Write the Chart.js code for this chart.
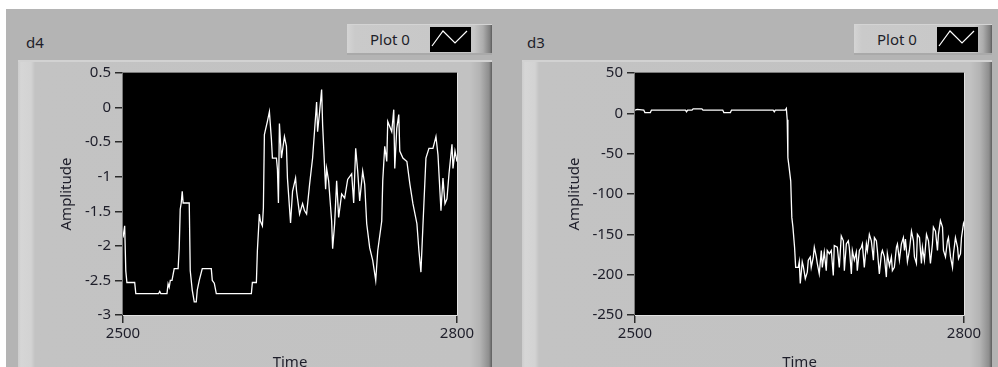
<!DOCTYPE html>
<html>
<head>
<meta charset="utf-8">
<script src="https://cdn.jsdelivr.net/npm/chart.js@4/dist/chart.umd.min.js"></script>
<style>
  html, body { margin: 0; padding: 0; width: 998px; height: 367px; overflow: hidden; background: #ffffff; font-family: "Noto Sans", sans-serif; }
  #frame { position: absolute; left: 6px; top: 9px; width: 992px; height: 358px; background: #b4b4b4; }
  .name { position: absolute; top: 33px; font-size: 15px; color: #1e1e2a; line-height: 18px; }
  .panel { position: absolute; top: 60px; height: 320px; border-top: 2px solid #d2d2d2; box-sizing: border-box;
    background: linear-gradient(to right, #cdcdcd 0px, #d6d6d6 3px, #d3d3d3 13px, #c3c3c3 17px, #c2c2c2 calc(100% - 22px), #b3b3b3 calc(100% - 12px), #8e8e8e calc(100% - 3px), #5e5e5e 100%); }
  .legend { position: absolute; top: 24px; height: 31px; box-sizing: border-box; border-bottom: 2px solid #a9a9a9; border-top: 1px solid #d4d4d4;
    background: linear-gradient(to right, #d4d4d4 0px, #cacaca 8px, #c7c7c7 calc(100% - 18px), #adadad calc(100% - 9px), #7e7e7e calc(100% - 2px), #5c5c5c 100%); }
  .legend span { position: absolute; left: 23px; top: 4px; font-size: 15px; line-height: 20px; color: #1e1e2a; }
  .legend svg { position: absolute; top: 2px; }
  canvas { position: absolute; }
</style>
</head>
<body>
<div id="frame"></div>

<div class="panel" style="left:18px; width:474px;"></div>
<div class="panel" style="left:522px; width:470px;"></div>

<div class="name" style="left:26px;">d4</div>
<div class="name" style="left:527px;">d3</div>

<div class="legend" style="left:347px; width:145px;">
  <span>Plot 0</span>
  <svg style="left:83px;" width="41" height="25" viewBox="0 0 41 25">
    <rect x="0" y="0" width="41" height="25" fill="#000"/>
    <polyline points="2,19 13,4 25,16 37,4" fill="none" stroke="#fff" stroke-width="1.2"/>
  </svg>
</div>
<div class="legend" style="left:854px; width:138px;">
  <span>Plot 0</span>
  <svg style="left:83px;" width="41" height="25" viewBox="0 0 41 25">
    <rect x="0" y="0" width="41" height="25" fill="#000"/>
    <polyline points="2,19 13,4 25,16 37,4" fill="none" stroke="#fff" stroke-width="1.2"/>
  </svg>
</div>

<canvas id="d4" width="474" height="320" style="left:18px; top:60px; width:474px; height:320px;"></canvas>
<canvas id="d3" width="470" height="320" style="left:522px; top:60px; width:470px; height:320px;"></canvas>

<script>
// Shared time axis ticks
const timeTicks = [2500, 2800];

// d4 waveform
const d4Time = [
  2500, 2501.5, 2502.5, 2503.5, 2510.5, 2511.5, 2532, 2533, 2534, 2539.5,
  2540.5, 2541.5, 2542.5, 2544, 2546, 2549.5, 2550.5, 2551.4, 2552.3, 2553.2,
  2554, 2559.5, 2560.4, 2562.2, 2564, 2565.8, 2566.7, 2568.5, 2571.2, 2579.3,
  2580.2, 2582, 2583.8, 2615.3, 2616.2, 2619.8, 2620.7, 2622.5, 2623.4, 2625.2,
  2626.1, 2627, 2629.7, 2631.5, 2633.3, 2634.2, 2637.8, 2638.7, 2639.6, 2640.5,
  2642.3, 2645, 2646.8, 2647.7, 2650.5, 2652.3, 2655, 2655.9, 2658.6, 2661.3,
  2663, 2664.9, 2667.6, 2670.3, 2673.9, 2674.8, 2676.6, 2678.4, 2679.3, 2682,
  2682.9, 2684.7, 2687.4, 2688.3, 2690.1, 2691.9, 2693.7, 2696.4, 2699.1, 2701.8,
  2705.4, 2707.2, 2709, 2710.8, 2712.6, 2715.3, 2717.1, 2718.9, 2721.6, 2724.3,
  2727, 2728.8, 2732.4, 2733.3, 2735.1, 2736.9, 2737.8, 2741.4, 2743.2, 2744.1,
  2745.9, 2747.7, 2748.6, 2751.4, 2755, 2757.7, 2760.4, 2764, 2765.8, 2767.6,
  2769.4, 2772.1, 2774.8, 2778.4, 2781.1, 2782.9, 2785.6, 2787.4, 2789.2, 2791,
  2792.8, 2795.5, 2796.4, 2798.2, 2800
];
const d4Amplitude = [
  -1.88, -1.71, -2.36, -2.53, -2.53, -2.69, -2.69, -2.66, -2.69, -2.69,
  -2.55, -2.6, -2.5, -2.5, -2.33, -2.33, -2.03, -1.47, -1.38, -1.21,
  -1.38, -1.38, -2.36, -2.64, -2.81, -2.81, -2.64, -2.5, -2.33, -2.33,
  -2.5, -2.54, -2.69, -2.69, -2.53, -2.53, -2.07, -1.54, -1.64, -1.71,
  -1.45, -0.39, -0.2, -0.06, -0.46, -0.73, -0.73, -0.89, -1.38, -0.23,
  -0.73, -0.42, -0.56, -1.02, -1.67, -1.21, -1.02, -1.21, -1.54, -1.39,
  -1.49, -1.54, -1.11, -0.73, 0.08, -0.35, -0.06, 0.26, -0.25, -1.18,
  -0.88, -1.06, -1.64, -2.04, -1.68, -1.06, -1.59, -1.25, -1.31, -1.04,
  -0.96, -1.38, -0.59, -0.92, -1.35, -0.92, -1.11, -1.68, -2.03, -2.21,
  -2.5, -2.07, -1.64, -1.06, -0.56, -0.78, -0.2, -0.35, -0.03, -0.88,
  -0.3, -0.1, -0.63, -0.73, -0.78, -1.11, -1.39, -1.68, -2.07, -2.38,
  -1.71, -0.73, -0.59, -0.59, -0.42, -0.68, -1.49, -1.02, -1.39, -1.32,
  -0.96, -0.53, -0.88, -0.63, -0.78
];
const d4AmplitudeTicks = [0.5, 0, -0.5, -1, -1.5, -2, -2.5, -3];

// d3 waveform
const d3Time = [
  2500, 2502, 2508, 2509, 2514, 2515, 2546, 2547, 2548, 2552,
  2553, 2561, 2562, 2580, 2581, 2587, 2588, 2626, 2627, 2628,
  2637, 2638, 2638.8, 2639.4, 2640.6, 2642, 2643, 2644, 2645.5, 2646.5,
  2648.9, 2649.8, 2650.7, 2652.5, 2653.4, 2655.3, 2657.1, 2658, 2659.8, 2660.7,
  2662.6, 2663.5, 2665.3, 2666.2, 2668, 2669.9, 2670.8, 2672.6, 2674.4, 2675.3,
  2677.2, 2679, 2680.8, 2681.7, 2684.5, 2686.3, 2688.1, 2690, 2690.9, 2692.7,
  2694.5, 2695.4, 2697.3, 2698.2, 2700, 2701.8, 2702.7, 2704.6, 2706.4, 2707.3,
  2709.1, 2711, 2711.9, 2713.7, 2715.5, 2717.4, 2718.3, 2720.1, 2721, 2722.8,
  2724.7, 2725.6, 2727.4, 2729.2, 2730.1, 2732, 2733.8, 2734.7, 2736.5, 2738.4,
  2739.3, 2741.1, 2742.9, 2744.7, 2745.7, 2746.6, 2748.4, 2750.2, 2752.1, 2753.9,
  2754.8, 2756.6, 2757.5, 2759.4, 2761.2, 2762.1, 2763.9, 2765.8, 2767.6, 2769.4,
  2771.2, 2772.1, 2774, 2775.8, 2776.7, 2778.5, 2780.4, 2781.3, 2783.1, 2784.9,
  2785.8, 2787.7, 2789.5, 2790.4, 2792.2, 2794.1, 2795, 2796.8, 2797.7, 2799.5,
  2800
];
const d3Amplitude = [
  4, 5, 4, 1, 1, 4, 4, 2, 4, 4,
  5.5, 5.5, 4, 4, 1, 1, 4, 4, 2, 4,
  4, 6, -8, -55, -68, -84, -129, -141, -166, -191,
  -191, -184, -211, -184, -189, -205, -197, -182, -178, -191,
  -178, -166, -178, -186, -199, -170, -191, -172, -195, -170,
  -174, -170, -201, -164, -166, -191, -152, -158, -195, -162,
  -158, -166, -199, -170, -182, -172, -195, -170, -166, -162,
  -191, -162, -170, -150, -158, -182, -154, -158, -170, -199,
  -174, -170, -178, -203, -174, -189, -178, -195, -191, -166,
  -162, -182, -162, -154, -170, -156, -184, -170, -146, -158,
  -178, -186, -150, -154, -186, -166, -182, -150, -158, -186,
  -162, -141, -146, -170, -150, -133, -141, -170, -178, -158,
  -154, -178, -191, -174, -154, -166, -180, -174, -154, -137,
  -140
];
const d3AmplitudeTicks = [50, 0, -50, -100, -150, -200, -250];

const textColor = '#1e1e2a';
const labelFont = { family: '"Noto Sans", sans-serif', size: 15 };

// Black plot area with a sunken frame
const plotFrame = {
  id: 'plotFrame',
  beforeDatasetsDraw(chart) {
    const { ctx, chartArea: a } = chart;
    ctx.save();
    ctx.fillStyle = '#000000';
    ctx.fillRect(a.left, a.top, a.right - a.left, a.bottom - a.top);
    ctx.restore();
  },
  afterDatasetsDraw(chart) {
    const { ctx, chartArea: a } = chart;
    ctx.save();
    ctx.lineWidth = 1;
    ctx.strokeStyle = '#7a7a7a';
    ctx.beginPath();
    ctx.moveTo(a.left - 0.5, a.bottom);
    ctx.lineTo(a.left - 0.5, a.top - 0.5);
    ctx.lineTo(a.right, a.top - 0.5);
    ctx.stroke();
    ctx.strokeStyle = '#e2e2e2';
    ctx.beginPath();
    ctx.moveTo(a.right + 0.5, a.top);
    ctx.lineTo(a.right + 0.5, a.bottom + 0.5);
    ctx.lineTo(a.left, a.bottom + 0.5);
    ctx.stroke();
    ctx.restore();
  }
};

function waveformChart(id, times, values, yTicks, axisWidth, rightPad, titlePad) {
  const points = times.map((t, i) => ({ x: t, y: values[i] }));
  return new Chart(document.getElementById(id), {
    type: 'line',
    data: {
      datasets: [{
        label: 'Plot 0',
        data: points,
        borderColor: '#ffffff',
        borderWidth: 1.3,
        pointRadius: 0,
        tension: 0,
        fill: false
      }]
    },
    options: {
      responsive: false,
      animation: false,
      devicePixelRatio: 1,
      layout: { padding: { top: 11, right: rightPad, left: 0, bottom: 0 } },
      plugins: { legend: { display: false }, tooltip: { enabled: false } },
      scales: {
        x: {
          type: 'linear',
          min: timeTicks[0],
          max: timeTicks[timeTicks.length - 1],
          afterBuildTicks: s => { s.ticks = timeTicks.map(v => ({ value: v })); },
          afterFit: s => { s.height = 65; },
          grid: { drawOnChartArea: false, drawTicks: true, tickLength: 8, color: '#2a2a2a', lineWidth: 1.5 },
          border: { display: false },
          ticks: { color: textColor, font: labelFont, padding: 2, maxRotation: 0, callback: v => String(v) },
          title: { display: true, text: 'Time', color: textColor, font: labelFont, padding: { top: 0, bottom: 8 } }
        },
        y: {
          type: 'linear',
          min: yTicks[yTicks.length - 1],
          max: yTicks[0],
          afterBuildTicks: s => { s.ticks = yTicks.map(v => ({ value: v })); },
          afterFit: s => { s.width = axisWidth; },
          grid: { drawOnChartArea: false, drawTicks: true, tickLength: 8, color: '#2a2a2a', lineWidth: 1.5 },
          border: { display: false },
          ticks: { color: textColor, font: labelFont, padding: 4, callback: v => String(v) },
          title: { display: true, text: 'Amplitude', color: textColor, font: labelFont, padding: { top: titlePad, bottom: 0 } }
        }
      }
    },
    plugins: [plotFrame]
  });
}

waveformChart('d4', d4Time, d4Amplitude, d4AmplitudeTicks, 105, 35, 40);
waveformChart('d3', d3Time, d3Amplitude, d3AmplitudeTicks, 113, 28, 44);
</script>
</body>
</html>
